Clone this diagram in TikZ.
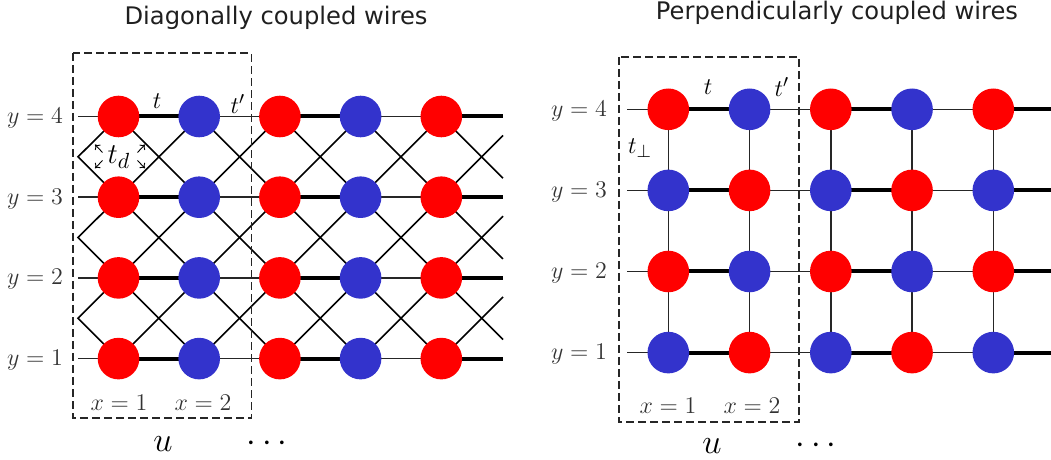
\documentclass[tikz,border=0pt]{standalone}
\usepackage{fontspec}
\newfontfamily\titlefont{DejaVu Sans}
\usetikzlibrary{backgrounds,arrows.meta}
\definecolor{wred}{RGB}{255,0,0}
\definecolor{wblue}{RGB}{51,51,204}
\begin{document}
\begin{tikzpicture}[x=0.5pt,y=-0.5pt,
  site/.style={circle,minimum size=20.8pt,inner sep=0pt,draw=none},
  thinbond/.style={line width=0.7pt,black!85},
  thickbond/.style={line width=2pt,black},
  diag/.style={line width=0.8pt,black},
  cellbox/.style={line width=0.7pt,dash pattern=on 4pt off 2pt,black!85},
  lab/.style={font=\fontsize{11.6}{14}\selectfont,text=black!80,anchor=base,inner sep=0pt},
  tlab/.style={font=\fontsize{12.5}{15}\selectfont,inner sep=0pt},
  ulab/.style={font=\fontsize{16}{19}\selectfont,anchor=base,inner sep=0pt},
  title/.style={font=\titlefont\fontsize{12.1}{14}\selectfont,text=black!88,anchor=base,inner sep=0pt},
  tdarrow/.style={line width=0.45pt,-{To[length=2.2pt,width=3.8pt]}}]

\useasboundingbox (0,0) rectangle (1051,460);

% ---------------- left panel ----------------
\node[title] (titleL) at (276,25) {Diagonally coupled wires};
\foreach \i in {1,...,5}{
  \foreach \j in {1,...,4}{
    \pgfmathsetmacro\xx{118.5+80.7*(\i-1)}
    \pgfmathsetmacro\yy{116.5+80.7*(4-\j)}
    \ifodd\i \def\fc{wred}\else\def\fc{wblue}\fi
    \node[site,fill=\fc] (L\i\j) at (\xx,\yy) {};
  }}
\foreach \j in {1,...,4}{
  \pgfmathsetmacro\yy{116.5+80.7*(4-\j)}
  \coordinate (LW\j) at (78,\yy);
  \coordinate (LE\j) at (503,\yy);
  \node[lab] (ly\j) at (35,\yy+7) {$y=\j$};
}
\foreach \j in {1,...,3}{
  \pgfmathsetmacro\yy{116.5+80.7*(4-\j)}
  \coordinate (LWd\j) at (78,\yy-40.35);
  \coordinate (LEu\j) at (503,\yy-61.7);
}
\foreach \j in {2,...,4}{
  \pgfmathsetmacro\yy{116.5+80.7*(4-\j)}
  \coordinate (LEd\j) at (503,\yy+61.7);
}

\begin{pgfonlayer}{background}
  \foreach \j in {1,...,4}{
    \draw[thinbond] (LW\j) -- (L1\j.center);
    \draw[thickbond] (L1\j.center) -- (L2\j.center);
    \draw[thinbond] (L2\j.center) -- (L3\j.center);
    \draw[thickbond] (L3\j.center) -- (L4\j.center);
    \draw[thinbond] (L4\j.center) -- (L5\j.center);
    \draw[thickbond] (L5\j.center) -- (LE\j);
  }
  \foreach \i in {1,...,4}{
    \foreach \j in {1,...,3}{
      \pgfmathtruncatemacro\ii{\i+1}
      \pgfmathtruncatemacro\jj{\j+1}
      \draw[diag] (L\i\j.center) -- (L\ii\jj.center);
      \draw[diag] (L\ii\j.center) -- (L\i\jj.center);
    }}
  \foreach \j in {1,...,3}{
    \pgfmathtruncatemacro\jj{\j+1}
    \draw[diag] (L1\jj.center) -- (LWd\j) -- (L1\j.center);
    \draw[diag] (L5\j.center) -- (LEu\j);
  }
  \foreach \j in {2,...,4}{
    \draw[diag] (L5\j.center) -- (LEd\j);
  }
\end{pgfonlayer}

\draw[cellbox] (73,53) rectangle (251.5,418);
\node[tlab] (tL) at (157,101) {$t$};
\node[tlab] (tpL) at (238,104) {$t'$};
\node[font=\fontsize{15}{18}\selectfont,inner sep=0pt] (td) at (119,157) {$t_d$};
\draw[tdarrow] (102.5,152.5) -- (95,144.5);
\draw[tdarrow] (102.5,160.5) -- (95,168.3);
\draw[tdarrow] (137.5,152.5) -- (145,144.5);
\draw[tdarrow] (137.5,160.5) -- (145,168.3);
\node[lab] (x1L) at (119,410) {$x=1$};
\node[lab] (x2L) at (203,410) {$x=2$};
\node[ulab] (uL) at (163,451) {$u$};
\node[ulab] (dotsL) at (267,451) {$\cdots$};

% ---------------- right panel ----------------
\node[title] (titleR) at (837,19.5) {Perpendicularly coupled wires};
\foreach \i in {1,...,5}{
  \foreach \j in {1,...,4}{
    \pgfmathsetmacro\xx{668.3+81.25*(\i-1)}
    \pgfmathsetmacro\yy{109.3+81.1*(4-\j)}
    \pgfmathtruncatemacro\psum{\i+\j}
    \ifodd\psum \def\fc{wred}\else\def\fc{wblue}\fi
    \node[site,fill=\fc] (R\i\j) at (\xx,\yy) {};
  }}
\foreach \j in {1,...,4}{
  \pgfmathsetmacro\yy{109.3+81.1*(4-\j)}
  \coordinate (RW\j) at (627,\yy);
  \coordinate (RE\j) at (1051,\yy);
  \node[lab] (ry\j) at (579,\yy+7) {$y=\j$};
}
\begin{pgfonlayer}{background}
  \foreach \j in {1,...,4}{
    \draw[thinbond] (RW\j) -- (R1\j.center);
    \draw[thickbond] (R1\j.center) -- (R2\j.center);
    \draw[thinbond] (R2\j.center) -- (R3\j.center);
    \draw[thickbond] (R3\j.center) -- (R4\j.center);
    \draw[thinbond] (R4\j.center) -- (R5\j.center);
    \draw[thickbond] (R5\j.center) -- (RE\j);
  }
  \foreach \i in {1,...,5}{
    \foreach \j in {1,...,3}{
      \pgfmathtruncatemacro\jj{\j+1}
      \draw[thinbond] (R\i\j.center) -- (R\i\jj.center);
    }}
\end{pgfonlayer}

\draw[cellbox] (619,57) rectangle (799,422);
\node[tlab] (tR) at (708,87) {$t$};
\node[tlab] (tpR) at (782,87) {$t'$};
\node[tlab] (tperp) at (640,148) {$t_\perp$};
\node[lab] (x1R) at (668,413) {$x=1$};
\node[lab] (x2R) at (752,413) {$x=2$};
\node[ulab] (uR) at (712,453) {$u$};
\node[ulab] (dotsR) at (816,453) {$\cdots$};
\end{tikzpicture}
\end{document}
